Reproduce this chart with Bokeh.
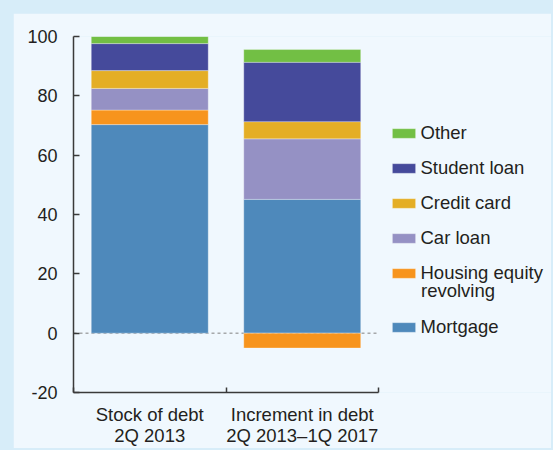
from bokeh.plotting import figure
from bokeh.models import Legend, LegendItem, FixedTicker, Label
from bokeh.embed import file_html
from bokeh.resources import INLINE

# ---- data ----
categories = ["Stock of debt\n2Q 2013", "Increment in debt\n2Q 2013\u20131Q 2017"]
mortgage = [70.3, 45.1]
housing_equity = [4.9, -5.0]
car_loan = [7.3, 20.4]
credit_card = [6.0, 5.8]
student_loan = [9.1, 20.0]
other = [2.4, 4.3]
y_ticks = [-20, 0, 20, 40, 60, 80, 100]
y_tick_labels = ["-20", "0", "20", "40", "60", "80", "100"]

series = [
    ("Mortgage", mortgage, "#4e89bb"),
    ("Housing equity", housing_equity, "#f7941d"),
    ("Car loan", car_loan, "#9591c4"),
    ("Credit card", credit_card, "#e4ae25"),
    ("Student loan", student_loan, "#454a9b"),
    ("Other", other, "#72bf44"),
]

PANEL = "#f0f8fe"
OUTER = "#d7edf9"
TEXT = "#231f20"
AXIS = "#3a3a3a"
FONT = "Liberation Sans"

W, H = 538, 435
LEFT, TOP, BOTTOM = 60, 23, 54
AXIS_PX = 305.0                     # pixel length of the category axis
frame_w = W - LEFT
n = len(categories)
x_end = n * frame_w / AXIS_PX

xs = [i + 0.5 for i in range(n)]

p = figure(width=W, height=H, x_range=(0, x_end), y_range=(-20, 100),
           output_backend="svg", toolbar_location=None,
           min_border_left=LEFT, min_border_top=TOP, min_border_right=0, min_border_bottom=BOTTOM,
           background_fill_color=PANEL, border_fill_color=PANEL, outline_line_color=None)
p.xgrid.visible = False
p.ygrid.visible = False

# dotted zero line along the category axis
p.line(x=[0, n], y=[0, 0], line_color="#808080", line_width=1, line_dash="3 3", level="underlay")

pos_base = [0.0] * n
neg_base = [0.0] * n
renderers = {}
for name, vals, col in series:
    bottoms, tops = [], []
    for i, v in enumerate(vals):
        if v >= 0:
            bottoms.append(pos_base[i]); tops.append(pos_base[i] + v); pos_base[i] += v
        else:
            tops.append(neg_base[i]); bottoms.append(neg_base[i] + v); neg_base[i] += v
    r = p.vbar(x=xs, width=0.767, bottom=bottoms, top=tops, fill_color=col,
               line_color="white", line_alpha=0.3, line_width=1)
    renderers[name] = r

# axes
p.yaxis.ticker = FixedTicker(ticks=y_ticks)
p.yaxis.major_label_overrides = {t: l for t, l in zip(y_ticks, y_tick_labels)}
p.yaxis.axis_line_color = AXIS
p.yaxis.axis_line_width = 1.5
p.yaxis.major_tick_line_color = AXIS
p.yaxis.major_tick_line_width = 1.5
p.yaxis.major_tick_in = 6
p.yaxis.major_tick_out = 0
p.yaxis.minor_tick_line_color = None
p.yaxis.major_label_standoff = 16
p.yaxis.major_label_text_font = FONT
p.yaxis.major_label_text_font_size = "18px"
p.yaxis.major_label_text_color = TEXT

p.xaxis.bounds = (0, n)
p.xaxis.ticker = FixedTicker(ticks=xs, minor_ticks=list(range(n + 1)))
p.xaxis.major_label_overrides = {x: c for x, c in zip(xs, categories)}
p.xaxis.axis_line_color = AXIS
p.xaxis.axis_line_width = 1.5
p.xaxis.major_tick_line_color = None
p.xaxis.minor_tick_line_color = AXIS
p.xaxis.minor_tick_line_width = 1.5
p.xaxis.minor_tick_in = 5
p.xaxis.minor_tick_out = 0
p.xaxis.major_label_standoff = 5
p.xaxis.major_label_text_font = FONT
p.xaxis.major_label_text_font_size = "18.5px"
p.xaxis.major_label_text_color = TEXT
p.xaxis.major_label_text_line_height = 1.0

legend_style = dict(padding=0, margin=0, spacing=13, glyph_width=29, glyph_height=12,
                    label_height=20, label_standoff=3, label_text_font=FONT,
                    label_text_font_size="18.5px", label_text_color=TEXT,
                    background_fill_alpha=0, border_line_alpha=0)

legend1 = Legend(items=[LegendItem(label=nm, renderers=[renderers[nm]]) for nm in
                        ["Other", "Student loan", "Credit card", "Car loan", "Housing equity"]],
                 location=(315.5, 108), **legend_style)
legend2 = Legend(items=[LegendItem(label="Mortgage", renderers=[renderers["Mortgage"]])],
                 location=(315.5, 54), **legend_style)
p.add_layout(legend1)
p.add_layout(legend2)
p.add_layout(Label(x=347.5, y=102, x_units="screen", y_units="screen", text="revolving",
                   text_font=FONT, text_font_size="18.5px", text_color=TEXT,
                   text_baseline="middle"))

html = file_html(p, INLINE)
html = html.replace("<body>", '<body style="background-color:%s; margin:13px 0 0 13px;">' % OUTER)
open("out.html", "w").write(html)
